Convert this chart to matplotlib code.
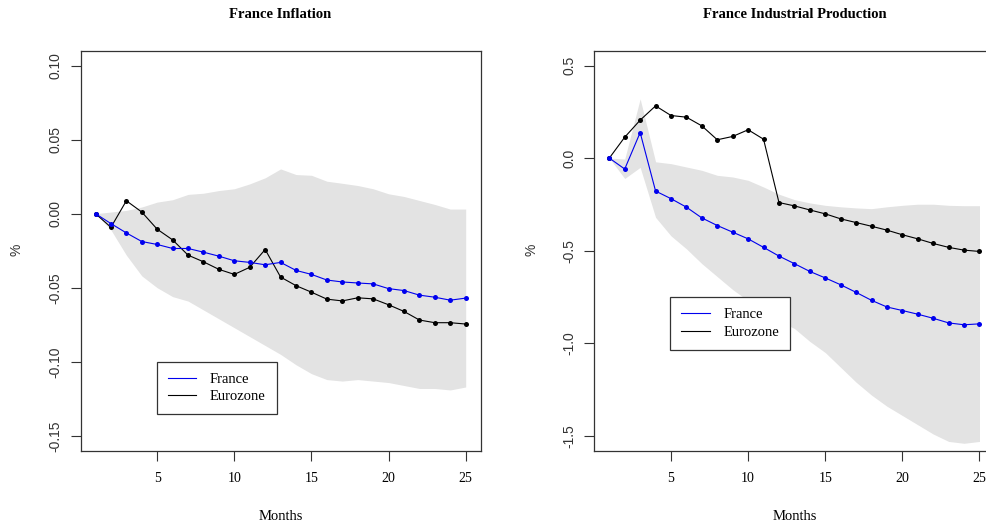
import matplotlib
matplotlib.use("Agg")
import matplotlib.pyplot as plt
from matplotlib.lines import Line2D

months = list(range(1, 26))

# Inflation responses (%)
infl_france = [0.0, -0.0067, -0.013, -0.0188, -0.0208, -0.0235, -0.0235, -0.026,
               -0.0287, -0.0318, -0.0329, -0.0345, -0.0329, -0.0383, -0.041, -0.0448,
               -0.0461, -0.0468, -0.0474, -0.0506, -0.0519, -0.055, -0.0564, -0.0584,
               -0.057]
infl_euro = [0.0, -0.0092, 0.0087, 0.0011, -0.0105, -0.0177, -0.028, -0.0325,
             -0.0376, -0.041, -0.0362, -0.0242, -0.0428, -0.0486, -0.053, -0.0577,
             -0.0589, -0.0568, -0.0575, -0.0615, -0.066, -0.0718, -0.0736, -0.0736,
             -0.0745]
infl_upper = [0.0, 0.0011, 0.0022, 0.0045, 0.0078, 0.0094, 0.013, 0.0138, 0.0156,
              0.0168, 0.0201, 0.0242, 0.0302, 0.0264, 0.0259, 0.0219, 0.0205, 0.019,
              0.0168, 0.0134, 0.0116, 0.0089, 0.0062, 0.0031, 0.0031]
infl_lower = [0.0, -0.011, -0.028, -0.042, -0.050, -0.056, -0.059, -0.065, -0.071,
              -0.077, -0.083, -0.089, -0.095, -0.102, -0.108, -0.112, -0.113, -0.112,
              -0.113, -0.114, -0.116, -0.118, -0.118, -0.119, -0.117]

# Industrial production responses (%)
ip_france = [0.0, -0.059, 0.138, -0.178, -0.219, -0.265, -0.323, -0.364, -0.400,
             -0.436, -0.482, -0.529, -0.570, -0.612, -0.647, -0.684, -0.725, -0.768,
             -0.804, -0.823, -0.843, -0.865, -0.890, -0.900, -0.895]
ip_euro = [0.0, 0.113, 0.205, 0.282, 0.230, 0.221, 0.174, 0.099, 0.117, 0.153,
           0.102, -0.240, -0.258, -0.280, -0.301, -0.328, -0.348, -0.368, -0.389,
           -0.414, -0.436, -0.461, -0.482, -0.497, -0.504]
ip_upper = [0.0, -0.005, 0.32, -0.02, -0.03, -0.048, -0.066, -0.093, -0.102, -0.12,
            -0.156, -0.195, -0.224, -0.242, -0.255, -0.263, -0.269, -0.273, -0.263,
            -0.255, -0.249, -0.249, -0.255, -0.257, -0.257]
ip_lower = [0.0, -0.11, -0.05, -0.32, -0.42, -0.49, -0.57, -0.64, -0.71, -0.77,
            -0.83, -0.88, -0.92, -0.99, -1.05, -1.13, -1.21, -1.28, -1.34, -1.39,
            -1.44, -1.49, -1.53, -1.54, -1.53]

xticks = [5, 10, 15, 20, 25]
infl_yticks = [-0.15, -0.10, -0.05, 0.00, 0.05, 0.10]
infl_yticklabels = ["-0.15", "-0.10", "-0.05", "0.00", "0.05", "0.10"]
ip_yticks = [-1.5, -1.0, -0.5, 0.0, 0.5]
ip_yticklabels = ["-1.5", "-1.0", "-0.5", "0.0", "0.5"]

SERIF = "Liberation Serif"
SANS = "Liberation Sans"
BAND = "#e3e3e3"
FRAME = "#333333"

W, H = 987, 527
fig = plt.figure(figsize=(W / 100, H / 100), dpi=100)


def px_axes(left, top, right, bottom):
    return fig.add_axes([left / W, 1 - bottom / H, (right - left) / W, (bottom - top) / H])


def panel(ax, title, france, euro, lo, hi, ylim, yticks, yticklabels, legend_anchor, xc):
    ax.fill_between(months, lo, hi, color=BAND, linewidth=0, zorder=1)
    ax.plot(months, euro, color="black", lw=0.8, marker="o", ms=3.6,
            markeredgewidth=0, zorder=3)
    ax.plot(months, france, color="#0000ee", lw=0.8, marker="o", ms=3.6,
            markeredgewidth=0, zorder=4)
    ax.set_xlim(0.04, 25.96)
    ax.set_ylim(*ylim)
    ax.set_xticks(xticks)
    ax.set_xticklabels([str(t) for t in xticks], fontfamily=SERIF, fontsize=10)
    ax.set_yticks(yticks)
    ax.set_yticklabels(yticklabels, fontfamily=SANS, fontsize=10,
                       rotation=90, va="center", color=FRAME)
    ax.tick_params(axis="x", length=7, width=0.8, pad=8, color=FRAME)
    ax.tick_params(axis="y", length=7, width=0.8, pad=6, color=FRAME)
    for s in ax.spines.values():
        s.set_linewidth(0.9)
        s.set_color(FRAME)

    handles = [Line2D([], [], color="#0000ee", lw=0.8),
               Line2D([], [], color="black", lw=0.8)]
    leg = ax.legend(handles, ["France", "Eurozone"], loc="upper left",
                    bbox_to_anchor=legend_anchor, borderaxespad=0,
                    prop={"family": SERIF, "size": 10.5}, handlelength=1.95,
                    handletextpad=0.95, borderpad=0.75, labelspacing=0.3,
                    fancybox=False, framealpha=1, edgecolor=FRAME)
    leg.get_frame().set_linewidth(0.9)
    leg.set_zorder(5)

    fig.text(xc / W, 1 - 14 / H, title, ha="center", va="center",
             fontfamily=SERIF, fontweight="bold", fontsize=10.5)
    fig.text(xc / W, 1 - 517 / H, "Months", ha="center", va="center",
             fontfamily=SERIF, fontsize=10.5)


ax1 = px_axes(80.7, 50.7, 480.5, 450.7)
panel(ax1, "France Inflation", infl_france, infl_euro, infl_lower, infl_upper,
      (-0.16, 0.11), infl_yticks, infl_yticklabels, (0.190, 0.2225), 280.6)
fig.text(17 / W, 1 - 250 / H, "%", rotation=90, ha="center", va="center",
         fontfamily=SANS, fontsize=10, color=FRAME)

ax2 = px_axes(594.5, 50.7, 994.3, 450.7)
panel(ax2, "France Industrial Production", ip_france, ip_euro, ip_lower, ip_upper,
      (-1.58, 0.58), ip_yticks, ip_yticklabels, (0.19, 0.384), 794.4)
fig.text(532 / W, 1 - 250 / H, "%", rotation=90, ha="center", va="center",
         fontfamily=SANS, fontsize=10, color=FRAME)

fig.savefig("out.png", dpi=100)
